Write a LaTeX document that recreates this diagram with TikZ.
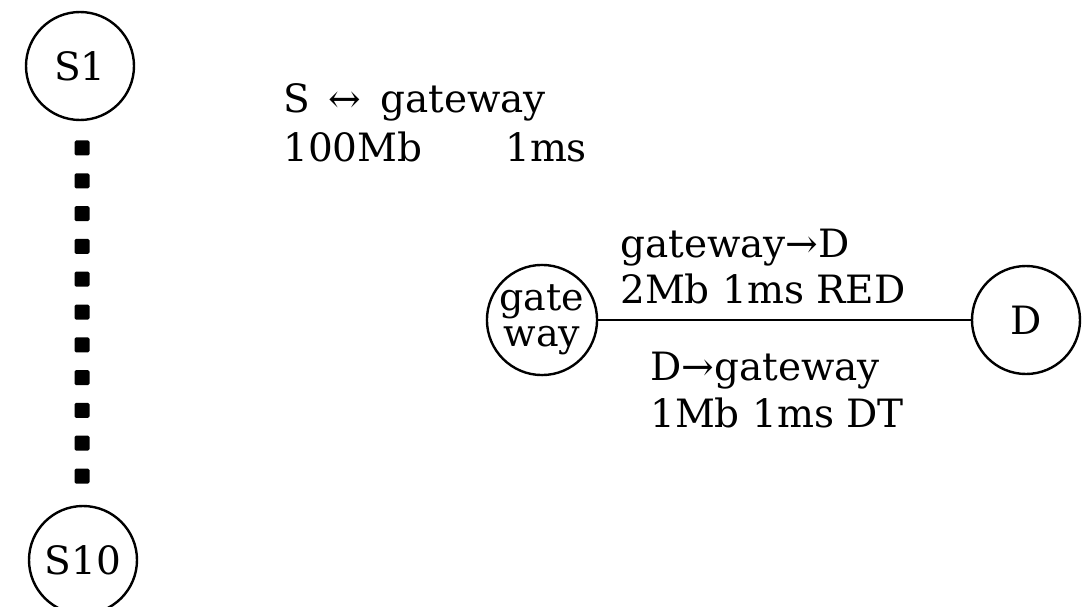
\documentclass[tikz,border=0pt]{standalone}
\usepackage{fontspec}
\setmainfont{DejaVu Serif}
\begin{document}
\begin{tikzpicture}[x=1pt,y=-1pt,
  txt/.style={font=\fontsize{39}{46}\selectfont, inner sep=0pt, anchor=base west},
  station/.style={draw, circle, line width=2.4pt, minimum size=108pt, inner sep=0pt, font=\fontsize{39}{46}\selectfont},
  dotsq/.style={fill, rectangle, minimum size=15pt, inner sep=0pt, rounded corners=1.5pt},
  link/.style={line width=2pt}]
\useasboundingbox (0,0) rectangle (1090,607);
\node[station] (s1) at (80,66) {S1};
\node[station] (s10) at (83,560) {S10};
\foreach \k in {0,...,10}{
  \node[dotsq] (dot\k) at (82,{148+32.8*\k}) {};
}
\node[station, minimum size=110pt, align=center, font=\fontsize{38}{36}\selectfont] (gw) at (542,320) {gate\\way};
\node[station] (d) at (1026,320) {D};
\draw[link] (gw) -- (d);
\node[txt] (t1) at (283,113) {S \,↔\, gateway};
\node[txt] (t2) at (283,161) {100Mb};
\node[txt] (t3) at (505,161) {1ms};
\node[txt] (t4) at (620,257) {gateway→D};
\node[txt] (t5) at (620,303) {2Mb 1ms RED};
\node[txt] (t6) at (650,380) {D→gateway};
\node[txt] (t7) at (650,427) {1Mb 1ms DT};
\end{tikzpicture}
\end{document}
